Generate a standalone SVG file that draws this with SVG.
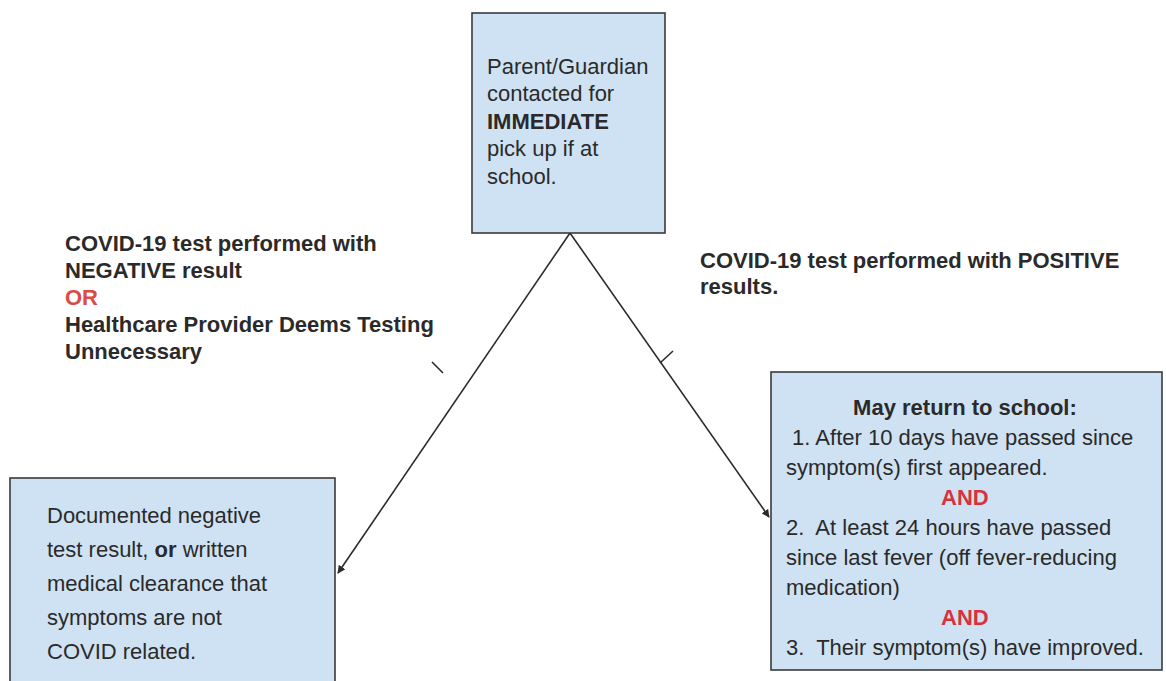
<svg xmlns="http://www.w3.org/2000/svg" width="1166" height="681" viewBox="0 0 1166 681">
  <style>
    .box { fill: #cfe2f3; stroke: #3a3a3a; stroke-width: 1.6; }
    .txt { font-family: "Liberation Sans", Arial, sans-serif; font-size: 22px; fill: #2a2a2a; }
    .b { font-weight: bold; }
    .red { fill: #d8313f; font-weight: bold; }
    .or { fill: #dc4a45; font-weight: bold; }
    .edge { stroke: #2b2b2b; stroke-width: 1.6; fill: none; }
  </style>
  <defs>
    <marker id="arrow" viewBox="0 0 10 10" refX="9" refY="5" markerWidth="8" markerHeight="8" orient="auto" markerUnits="userSpaceOnUse">
      <path d="M0,0 L10,5 L0,10 z" fill="#2b2b2b"/>
    </marker>
  </defs>
  <rect width="1166" height="681" fill="#ffffff"/>

  <!-- connectors -->
  <g id="connectors">
    <line class="edge" x1="570" y1="233" x2="338" y2="573" marker-end="url(#arrow)"/>
    <line class="edge" x1="570" y1="233" x2="769" y2="517" marker-end="url(#arrow)"/>
    <line class="edge" x1="432" y1="362" x2="443" y2="373"/>
    <line class="edge" x1="660" y1="363" x2="673" y2="351"/>
  </g>

  <!-- top node -->
  <g id="pickup">
    <rect class="box" x="472" y="13" width="193" height="220"/>
    <text class="txt">
      <tspan x="487" y="74">Parent/Guardian</tspan>
      <tspan x="487" y="101">contacted for</tspan>
      <tspan x="487" y="129" class="b">IMMEDIATE</tspan>
      <tspan x="487" y="156">pick up if at</tspan>
      <tspan x="487" y="184">school.</tspan>
    </text>
  </g>

  <!-- negative branch label -->
  <g id="label-negative">
    <text class="txt b">
      <tspan x="65" y="251">COVID-19 test performed with</tspan>
      <tspan x="65" y="278">NEGATIVE result</tspan>
      <tspan x="65" y="305" class="or">OR</tspan>
      <tspan x="65" y="332">Healthcare Provider Deems Testing</tspan>
      <tspan x="65" y="359">Unnecessary</tspan>
    </text>
  </g>

  <!-- positive branch label -->
  <g id="label-positive">
    <text class="txt b">
      <tspan x="700" y="268">COVID-19 test performed with POSITIVE</tspan>
      <tspan x="700" y="294">results.</tspan>
    </text>
  </g>

  <!-- left outcome node -->
  <g id="negative-outcome">
    <rect class="box" x="10" y="478" width="325" height="215"/>
    <text class="txt">
      <tspan x="47" y="523">Documented negative</tspan>
      <tspan x="47" y="557">test result, <tspan class="b">or</tspan> written</tspan>
      <tspan x="47" y="591">medical clearance that</tspan>
      <tspan x="47" y="625">symptoms are not</tspan>
      <tspan x="47" y="659">COVID related.</tspan>
    </text>
  </g>

  <!-- right outcome node -->
  <g id="positive-outcome">
    <rect class="box" x="771" y="372" width="391" height="298"/>
    <text class="txt">
      <tspan x="968" y="415" text-anchor="middle" class="b">May return to school:</tspan>
      <tspan x="786" y="445" xml:space="preserve"> 1. After 10 days have passed since</tspan>
      <tspan x="786" y="475">symptom(s) first appeared.</tspan>
      <tspan x="968" y="505" text-anchor="middle" class="red">AND</tspan>
      <tspan x="786" y="535" xml:space="preserve">2.  At least 24 hours have passed</tspan>
      <tspan x="786" y="565">since last fever (off fever-reducing</tspan>
      <tspan x="786" y="595">medication)</tspan>
      <tspan x="968" y="625" text-anchor="middle" class="red">AND</tspan>
      <tspan x="786" y="655" xml:space="preserve">3.  Their symptom(s) have improved.</tspan>
    </text>
  </g>
</svg>
